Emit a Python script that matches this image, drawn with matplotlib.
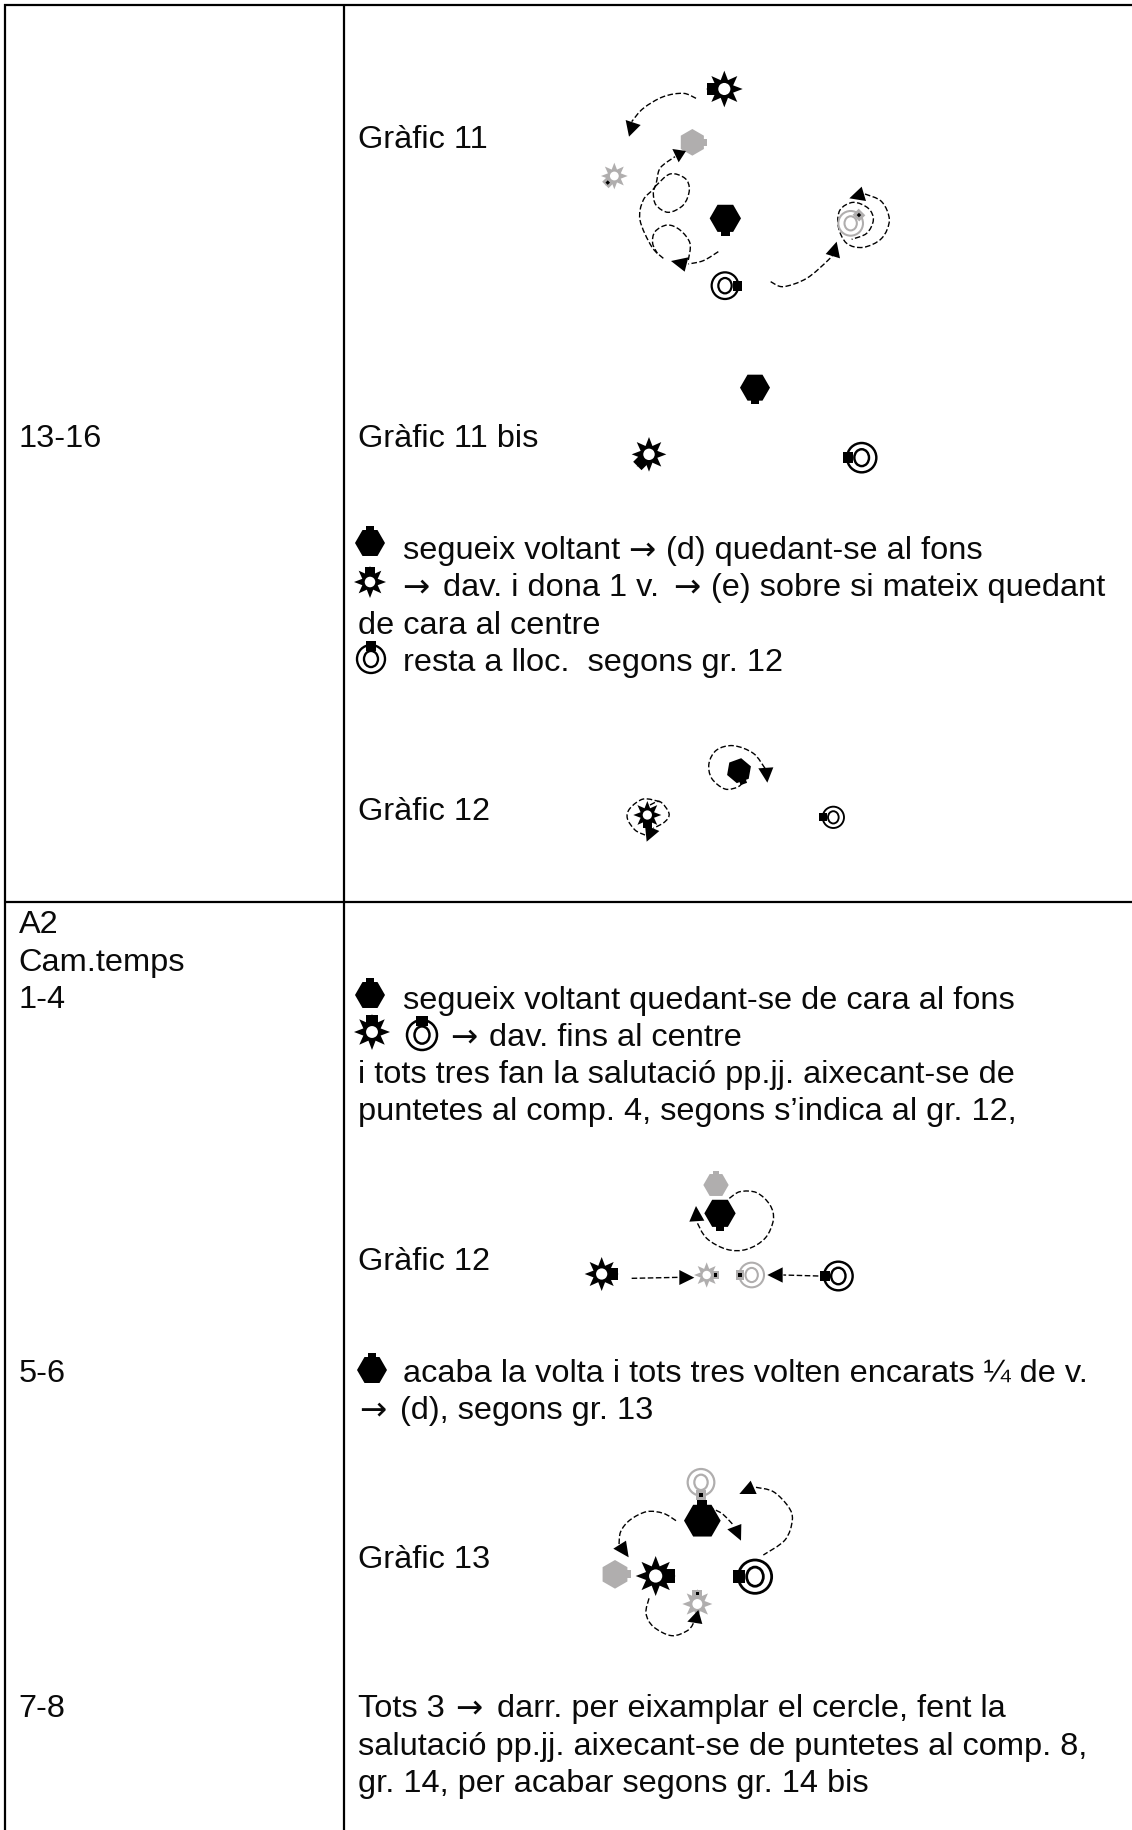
"""Taula de passos amb els gràfics 11-13 (coordenades en píxels de la pàgina)."""
import numpy as np
import matplotlib
matplotlib.use("Agg")
import matplotlib.pyplot as plt
from matplotlib.patches import Ellipse, PathPatch, Polygon
from matplotlib.path import Path

W, H = 1132, 1830
GREY = "#b0aeae"
FONT = "Liberation Sans"
SIZE = 23.4

# text: cadena, x, línia base
left_labels = ["13-16", "A2", "Cam.temps", "1-4", "5-6", "7-8"]
left_y = [447, 933, 971, 1008, 1382, 1717]

text_items = ["Gràfic 11", "Gràfic 11 bis", "segueix voltant", "→", "(d) quedant-se al fons",
              "→", "dav. i dona 1 v.", "→", "(e) sobre si mateix quedant",
              "de cara al centre", "resta a lloc.  segons gr. 12", "Gràfic 12",
              "segueix voltant quedant-se de cara al fons", "→", "dav. fins al centre",
              "i tots tres fan la salutació pp.jj. aixecant-se de",
              "puntetes al comp. 4, segons s’indica al gr. 12,", "Gràfic 12",
              "acaba la volta i tots tres volten encarats ¼ de v.", "→", "(d), segons gr. 13",
              "Gràfic 13", "Tots 3", "→", "darr. per eixamplar el cercle, fent la",
              "salutació pp.jj. aixecant-se de puntetes al comp. 8,",
              "gr. 14, per acabar segons gr. 14 bis"]
text_x = [358, 358, 403, 628, 666,
          402, 443, 673, 711,
          358, 403, 358,
          403, 450, 489,
          358,
          358, 358,
          403, 359, 400,
          358, 358, 455, 497,
          358,
          358]
text_y = [148, 447, 559, 559, 559,
          596, 596, 596, 596,
          634, 671, 820,
          1009, 1046, 1046,
          1083,
          1120, 1270,
          1382, 1419, 1419,
          1568, 1717, 1717, 1717,
          1755,
          1792]

# icones dins del text (x, y en pàgina): tipus, x, y, r, angle de la pestanya
inline_icons = [("hex", 370, 543, 15, -90), ("star", 370, 582, 16, -90), ("ring", 371, 659, 14, -90),
                ("hex", 370, 995, 15, -90), ("star", 372, 1032, 18, -90), ("ring", 422, 1035, 15, -90),
                ("hex", 372, 1370, 15, -90)]

# cada gràfic: origen del retall i coordenades x3 dins del retall
g11_origin = (580, 70)
g11_glyphs = [("star", 433, 57, 55, 180, "k", False), ("hex", 337, 217, 40, 0, GREY, False),
              ("star", 103, 318, 40, 135, GREY, True), ("hex", 436, 445, 47, 90, "k", False),
              ("ring", 435, 647, 40, 0, "k", False), ("ring", 812, 460, 37, -45, GREY, True)]
g11_curves = [[(348, 85), (310, 70), (250, 80), (190, 115), (155, 155)],
              [(250, 565), (215, 530), (180, 450), (190, 390), (225, 350), (240, 295), (285, 260)],
              [(225, 350), (270, 312), (315, 325), (328, 360), (310, 405), (265, 427), (228, 405), (220, 370), (225, 350)],
              [(415, 545), (370, 572), (325, 582)],
              [(325, 570), (330, 520), (300, 480), (262, 465), (225, 485), (218, 520), (232, 550)],
              [(572, 635), (610, 650), (680, 625), (745, 570), (765, 545)],
              [(855, 372), (905, 395), (928, 450), (905, 505), (850, 532), (800, 520), (775, 470),
               (780, 420), (820, 397), (865, 415), (880, 450), (860, 490), (815, 508)]]
g11_heads = [[(137, 150), (182, 165), (147, 200)], [(277, 237), (318, 243), (296, 277)],
             [(273, 573), (325, 562), (314, 605)], [(770, 515), (737, 552), (780, 565)],
             [(845, 350), (808, 385), (858, 393)]]

g11b_origin = (610, 360)
g11b_glyphs = [("hex", 435, 83, 45, 90, "k", False), ("star", 117, 283, 52, 135, "k", False),
               ("ring", 755, 293, 44, 180, "k", False)]

g12_origin = (610, 730)
g12_glyphs = [("hex", 387, 122, 38, 70, "k", False), ("star", 112, 255, 42, 90, "k", False),
              ("ring", 670, 262, 32, 180, "k", False)]
g12_curves = [[(465, 115), (430, 70), (370, 47), (320, 60), (297, 100), (305, 145), (345, 177), (385, 170), (405, 148)],
              [(120, 225), (150, 215), (177, 250), (165, 275), (130, 295)],
              [(150, 215), (100, 207), (60, 235), (52, 265), (75, 300), (105, 315)]]
g12_heads = [[(445, 115), (490, 112), (472, 158)], [(105, 285), (148, 303), (110, 335)]]

g12c_origin = (570, 1150)
g12c_glyphs = [("hex", 438, 105, 38, -90, GREY, False), ("hex", 450, 190, 47, 90, "k", False),
               ("star", 95, 372, 51, 0, "k", False), ("star", 410, 375, 38, 0, GREY, True),
               ("ring", 545, 375, 37, 180, GREY, True), ("ring", 805, 378, 43, 180, "k", False)]
g12c_curves = [[(478, 145), (510, 125), (560, 128), (600, 165), (610, 210), (585, 265), (530, 298), (470, 298), (410, 265), (380, 215)],
               [(185, 385), (328, 382)], [(745, 378), (640, 375)]]
g12c_heads = [[(378, 168), (358, 215), (403, 212)], [(328, 360), (373, 383), (328, 405)],
              [(592, 375), (638, 352), (638, 398)]]

g13_origin = (580, 1450)
g13_glyphs = [("ring", 363, 97, 40, 90, GREY, True), ("hex", 367, 212, 55, -90, "k", False),
              ("hex", 105, 373, 43, 0, GREY, False), ("star", 227, 378, 60, 0, "k", False),
              ("star", 352, 462, 45, -90, GREY, True), ("ring", 525, 380, 50, 180, "k", False)]
g13_curves = [[(288, 212), (250, 190), (200, 185), (150, 210), (122, 245), (117, 285)],
              [(385, 172), (425, 190), (460, 225)],
              [(528, 112), (580, 125), (625, 170), (637, 210), (615, 270), (550, 315)],
              [(207, 445), (198, 490), (220, 530), (275, 557), (325, 540), (345, 510)]]
g13_heads = [[(100, 296), (138, 272), (146, 322)], [(442, 238), (484, 222), (483, 272)],
             [(512, 92), (478, 132), (530, 132)], [(322, 515), (355, 480), (367, 522)]]


def rot(pts, cx, cy, angle):
    a = np.radians(angle)
    c, s = np.cos(a), np.sin(a)
    pts = np.asarray(pts, float)
    return np.column_stack([cx + pts[:, 0] * c - pts[:, 1] * s, cy + pts[:, 0] * s + pts[:, 1] * c])


def add_tab(ax, cx, cy, r, angle, color, d0, d1, w, dot):
    tab = [(d0 * r, -w * r), (d1 * r, -w * r), (d1 * r, w * r), (d0 * r, w * r)]
    ax.add_patch(Polygon(rot(tab, cx, cy, angle), closed=True, fc=color, ec="none", zorder=3))
    if dot:
        m = (d0 + d1) / 2 * r
        s = 1.6
        sq = [(m - s, -s), (m + s, -s), (m + s, s), (m - s, s)]
        ax.add_patch(Polygon(rot(sq, cx, cy, angle), closed=True, fc="k", ec="none", zorder=4))


def draw_glyph(ax, kind, cx, cy, r, angle, color="k", dot=False):
    if kind == "hex":
        t = np.radians(30 + 60 * np.arange(6))
        ax.add_patch(Polygon(rot(np.column_stack([r * np.cos(t), r * np.sin(t)]), cx, cy, angle),
                             closed=True, fc=color, ec="none", zorder=3))
        add_tab(ax, cx, cy, r, angle, color, 0.75, 1.12, 0.27, dot)
    elif kind == "star":
        t = np.radians(22.5 * np.arange(16))
        rr = np.where(np.arange(16) % 2 == 0, r, r * 0.52)
        ax.add_patch(Polygon(rot(np.column_stack([rr * np.cos(t), rr * np.sin(t)]), cx, cy, angle),
                             closed=True, fc=color, ec="none", zorder=3))
        add_tab(ax, cx, cy, r, angle, color, 0.45, 0.95, 0.34, dot)
        ax.add_patch(Ellipse((cx, cy), 0.66 * r, 0.66 * r, fc="white", ec="none", zorder=5))
    else:
        lw = max(1.35, r * 0.12)
        ax.add_patch(Ellipse((cx, cy), 2 * r, 2 * r, fc="none", ec=color, lw=lw, zorder=3))
        ax.add_patch(Ellipse((cx, cy), 1.0 * r, 1.15 * r, fc="none", ec=color, lw=lw, zorder=3))
        add_tab(ax, cx, cy, r, angle, color, 0.6, 1.3, 0.38, dot)


def smooth_path(pts):
    # Catmull-Rom -> bezier, per no haver de donar punts de control
    p = np.asarray(pts, float)
    q = np.vstack([p[0], p, p[-1]])
    verts, codes = [p[0]], [Path.MOVETO]
    for i in range(1, len(q) - 2):
        verts += [q[i] + (q[i + 1] - q[i - 1]) / 6, q[i + 1] - (q[i + 2] - q[i]) / 6, q[i + 1]]
        codes += [Path.CURVE4] * 3
    return Path(verts, codes)


def draw_diagram(ax, origin, glyphs, curves=(), heads=()):
    ox, oy = origin
    for kind, x, y, r, angle, color, dot in glyphs:
        draw_glyph(ax, kind, ox + x / 3, oy + y / 3, r / 3, angle, color, dot)
    for pts in curves:
        page = [(ox + x / 3, oy + y / 3) for x, y in pts]
        ax.add_patch(PathPatch(smooth_path(page), fc="none", ec="k", lw=1.0,
                               linestyle=(0, (4, 1.8)), zorder=2))
    for tri in heads:
        page = [(ox + x / 3, oy + y / 3) for x, y in tri]
        ax.add_patch(Polygon(page, closed=True, fc="k", ec="none", zorder=6))


fig = plt.figure(figsize=(W / 100, H / 100), dpi=100)
ax = fig.add_axes([0, 0, 1, 1])
ax.set_xlim(0, W)
ax.set_ylim(H, 0)
ax.axis("off")

# línies de la taula
ax.plot([4, W], [5, 5], color="k", lw=1.6, solid_capstyle="butt")
ax.plot([5, W], [902, 902], color="k", lw=1.6, solid_capstyle="butt")
ax.plot([5, 5], [4, H], color="k", lw=1.6, solid_capstyle="butt")
ax.plot([344, 344], [4, H], color="k", lw=1.6, solid_capstyle="butt")

for s, y in zip(left_labels, left_y):
    ax.text(18.5, y, s, family=FONT, fontsize=SIZE, va="baseline", ha="left", color="#0a0a0a")
for s, x, y in zip(text_items, text_x, text_y):
    if s == "→":
        ax.text(x, y, s, family="DejaVu Sans", fontsize=SIZE, va="baseline", ha="left", color="#0a0a0a")
    else:
        ax.text(x, y, s, family=FONT, fontsize=SIZE, va="baseline", ha="left", color="#0a0a0a")

for kind, x, y, r, angle in inline_icons:
    draw_glyph(ax, kind, x, y, r, angle)

draw_diagram(ax, g11_origin, g11_glyphs, g11_curves, g11_heads)
draw_diagram(ax, g11b_origin, g11b_glyphs)
draw_diagram(ax, g12_origin, g12_glyphs, g12_curves, g12_heads)
draw_diagram(ax, g12c_origin, g12c_glyphs, g12c_curves, g12c_heads)
draw_diagram(ax, g13_origin, g13_glyphs, g13_curves, g13_heads)

fig.savefig("out.png", dpi=100)
plt.close(fig)
